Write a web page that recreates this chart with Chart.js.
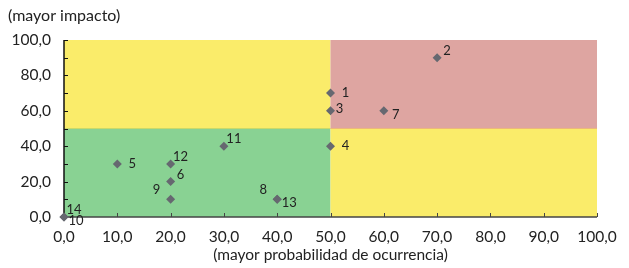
<!DOCTYPE html>
<html>
<head>
<meta charset="utf-8">
<script src="https://cdn.jsdelivr.net/npm/chart.js@4"></script>
<style>
  html, body { margin: 0; padding: 0; background: #fff; }
  #wrap { width: 629px; height: 268px; }
</style>
</head>
<body>
<div id="wrap"><canvas id="riskChart"></canvas></div>
<script>
// Riesgos: probabilidad (x) vs impacto (y)
const riskIds = ['1', '2', '3', '4', '5', '6', '7', '8', '9', '10', '11', '12', '13', '14'];
const probability = [50, 70, 50, 50, 10, 20, 60, 40, 20, 0, 30, 20, 40, 0];
const impact = [70, 90, 60, 40, 30, 20, 60, 10, 10, 0, 40, 30, 10, 0];

// where each id label sits around its marker
const labelSide = ['r', 'ur', 'rn', 'r', 'r', 'ur', 'dr', 'ul', 'ul', 'dr', 'ur', 'ur', 'dr', 'ur'];
const labelShift = {
    r: [15, 0], rn: [9, -2], ur: [10, -7], dr: [12, 4], ul: [-14, -9]
};

const zones = [
    { x0: 0, x1: 50, y0: 0, y1: 50, color: '#89d293' },
    { x0: 50, x1: 100, y0: 0, y1: 50, color: '#faec6a' },
    { x0: 0, x1: 50, y0: 50, y1: 100, color: '#faec6a' },
    { x0: 50, x1: 100, y0: 50, y1: 100, color: '#dea5a1' }
];

const fmt = v => v.toFixed(1).replace('.', ',');
const FONT = 'Lato, "Open Sans", sans-serif';

const zonePlugin = {
    id: 'zones',
    beforeDatasetsDraw(chart) {
        const { ctx, scales: { x, y } } = chart;
        ctx.save();
        zones.forEach(z => {
            const left = x.getPixelForValue(z.x0);
            const right = x.getPixelForValue(z.x1);
            const top = y.getPixelForValue(z.y1);
            const bottom = y.getPixelForValue(z.y0);
            ctx.fillStyle = z.color;
            ctx.fillRect(left, top, right - left, bottom - top);
        });
        // soft border lines between the zones
        ctx.lineWidth = 1;
        ctx.strokeStyle = '#c9d96a';
        ctx.beginPath();
        ctx.moveTo(x.getPixelForValue(0), y.getPixelForValue(50));
        ctx.lineTo(x.getPixelForValue(50), y.getPixelForValue(50));
        ctx.stroke();
        ctx.strokeStyle = '#ecb87a';
        ctx.beginPath();
        ctx.moveTo(x.getPixelForValue(50), y.getPixelForValue(50));
        ctx.lineTo(x.getPixelForValue(100), y.getPixelForValue(50));
        ctx.stroke();

        // axis lines and inward tick marks
        const x0 = x.getPixelForValue(0);
        const y0 = y.getPixelForValue(0);
        ctx.strokeStyle = '#111';
        ctx.lineWidth = 1.5;
        ctx.beginPath();
        ctx.moveTo(x0, y.getPixelForValue(100));
        ctx.lineTo(x0, y0);
        ctx.stroke();
        ctx.strokeStyle = '#444';
        ctx.beginPath();
        ctx.moveTo(x0, y0);
        ctx.lineTo(x.getPixelForValue(100), y0);
        ctx.stroke();
        ctx.lineWidth = 1;
        for (let v = 0; v <= 100; v += 10) {
            const py = Math.round(y.getPixelForValue(v)) + 0.5;
            ctx.strokeStyle = '#111';
            ctx.beginPath();
            ctx.moveTo(x0, py);
            ctx.lineTo(x0 + 4, py);
            ctx.stroke();
            const px = Math.round(x.getPixelForValue(v)) + 0.5;
            ctx.strokeStyle = '#444';
            ctx.beginPath();
            ctx.moveTo(px, y0);
            ctx.lineTo(px, y0 - 4);
            ctx.stroke();
        }
        ctx.restore();
    },
    afterDatasetsDraw(chart) {
        const { ctx } = chart;
        const meta = chart.getDatasetMeta(0);
        ctx.save();
        ctx.font = '13px ' + FONT;
        ctx.fillStyle = '#222';
        ctx.textAlign = 'center';
        ctx.textBaseline = 'middle';
        meta.data.forEach((pt, i) => {
            const [dx, dy] = labelShift[labelSide[i]];
            ctx.fillText(riskIds[i], pt.x + dx, pt.y + dy);
        });
        // y axis caption, top left
        ctx.font = '16px ' + FONT;
        ctx.textAlign = 'left';
        ctx.fillText('(mayor impacto)', 8, 16);
        ctx.restore();
    }
};

new Chart(document.getElementById('riskChart'), {
    type: 'scatter',
    data: {
        datasets: [{
            label: 'Riesgos',
            data: probability.map((p, i) => ({ x: p, y: impact[i] })),
            pointStyle: 'rectRot',
            pointRadius: 4.5,
            pointHoverRadius: 4.5,
            backgroundColor: '#666870',
            borderColor: '#666870',
            borderWidth: 0
        }]
    },
    options: {
        responsive: true,
        maintainAspectRatio: false,
        animation: false,
        clip: false,
        layout: {
            padding: { top: 40, right: 32, left: 0, bottom: 4 }
        },
        plugins: {
            legend: { display: false },
            tooltip: { enabled: false },
            title: { display: false }
        },
        scales: {
            x: {
                type: 'linear',
                min: 0,
                max: 100,
                grid: { display: false, drawTicks: false },
                border: { display: false },
                afterFit: s => { s.height = 47; },
                ticks: {
                    stepSize: 10,
                    padding: 11,
                    color: '#222',
                    font: { family: FONT, size: 15.5 },
                    maxRotation: 0,
                    callback: v => fmt(v)
                },
                title: {
                    display: true,
                    text: '(mayor probabilidad de ocurrencia)',
                    color: '#222',
                    font: { family: FONT, size: 15.5 },
                    padding: { top: 0, bottom: 0 }
                }
            },
            y: {
                type: 'linear',
                min: 0,
                max: 100,
                grid: { display: false, drawTicks: false },
                border: { display: false },
                afterFit: s => { s.width = 64; },
                ticks: {
                    stepSize: 10,
                    padding: 13,
                    color: '#222',
                    font: { family: FONT, size: 15.5 },
                    callback: v => (v % 20 === 0 ? fmt(v) : '')
                }
            }
        }
    },
    plugins: [zonePlugin]
});
</script>
</body>
</html>
